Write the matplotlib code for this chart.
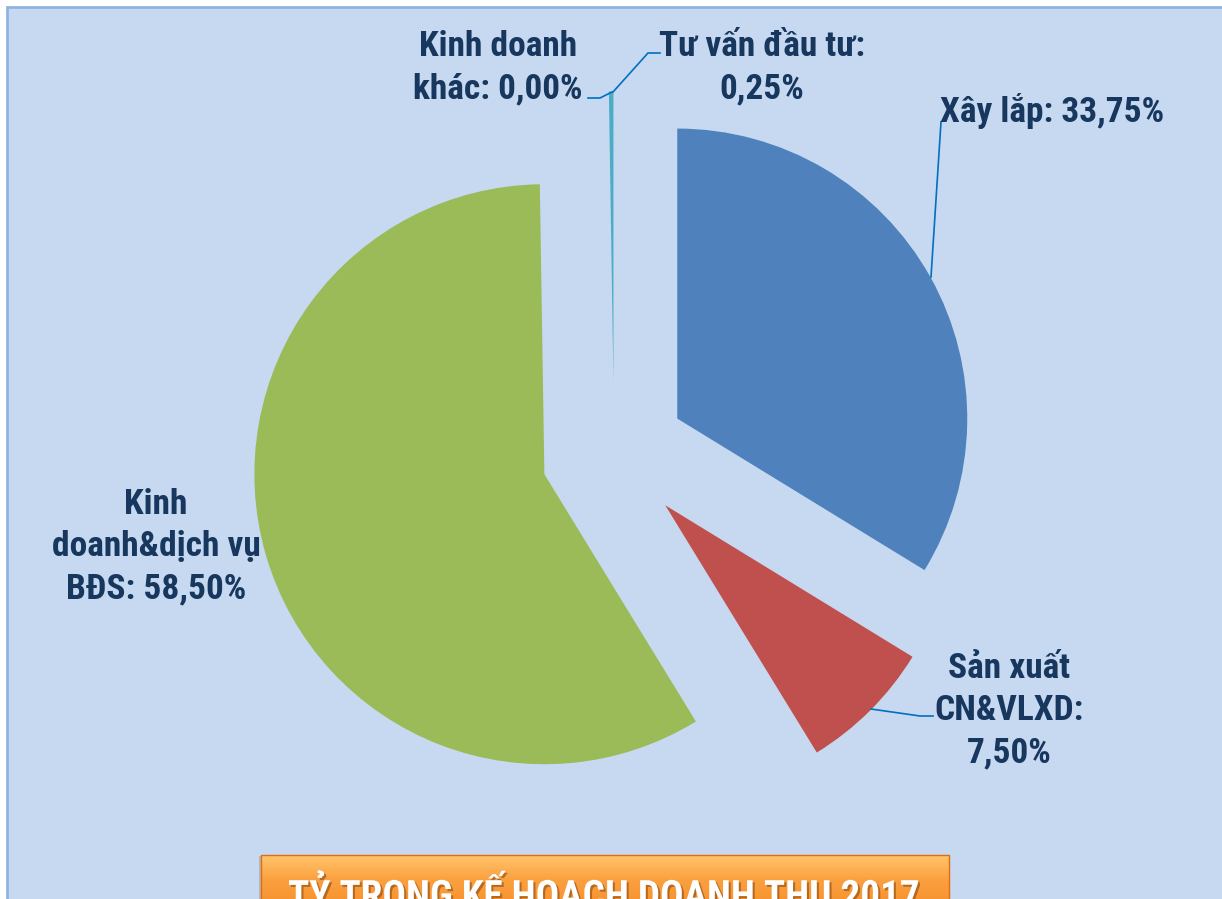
import os
import matplotlib
matplotlib.use("Agg")
import matplotlib.pyplot as plt
import matplotlib.patheffects as pe
from matplotlib import font_manager as fm
import numpy as np

# data
categories = ["Xây lắp", "Sản xuất\nCN&VLXD", "Kinh\ndoanh&dịch vụ\nBĐS",
              "Tư vấn đầu tư", "Kinh doanh\nkhác"]
shares = [33.75, 7.50, 58.50, 0.25, 0.00]
label_sep = [" ", "\n", " ", "\n", " "]
colors = ["#4F81BD", "#C0504D", "#9BBB59", "#4BACC6", "#8064A2"]
title = "TỶ TRỌNG KẾ HOẠCH DOANH THU 2017"

W, H = 1222, 899
CX, CY, R = 614, 454, 290  # pie centre / radius in pixels


def px(x, y):
    # pixel (from top-left) -> data units (radius = 1)
    return (x - CX) / R, (CY - y) / R


# look for a narrow bold face (chart uses something like Arial Narrow Bold)
prefs = ['liberationsansnarrow-bold.', 'robotocondensed-bold.',
         'notosans-condensedbold.', 'opensans-condbold.',
         'dejavusanscondensed-bold.', 'liberationsans-bold.']
files = {os.path.basename(f.fname).lower(): f.fname for f in fm.fontManager.ttflist}
font_file = None
for p in prefs:
    hit = [v for k, v in files.items() if k.startswith(p)]
    if hit:
        font_file = hit[0]
        break
if font_file:
    fprop = fm.FontProperties(fname=font_file)
else:
    fprop = fm.FontProperties(family='DejaVu Sans', weight='bold')

fig = plt.figure(figsize=(W / 100, H / 100), dpi=100, facecolor="white")
renderer = fig.canvas.get_renderer()


def measure(s, size, ls=1.0):
    t = fig.text(0, 0, s, fontproperties=fprop, fontsize=size, linespacing=ls)
    bb = t.get_window_extent(renderer)
    t.remove()
    return bb.width, bb.height


# size labels so "Xây lắp: 33,75%" is ~225 px wide, baselines 44 px apart
lab_size = 24 * 225 / measure("Xây lắp: 33,75%", 24)[0]
step = measure("A\nA", lab_size)[1] - measure("A", lab_size)[1]
lab_ls = 44.5 / step
title_size = 28 * 632 / measure(title, 28)[0]

ax = fig.add_axes([0, 0, 1, 1])

# chart area background
x0, y0 = px(7, 7)
x1, y1 = px(W + 20, H + 20)
ax.add_patch(plt.Rectangle((x0, y1), x1 - x0, y0 - y1, facecolor="#C6D9F0",
                           edgecolor="#8EB4E3", linewidth=2, zorder=0))

wedges, _ = ax.pie(shares, colors=colors, startangle=90, counterclock=False,
                   explode=[0.25] * len(shares), radius=1,
                   wedgeprops=dict(linewidth=0))
for w in wedges:
    w.set_zorder(2)

ax.set_xlim(-CX / R, (W - CX) / R)
ax.set_ylim((CY - H) / R, CY / R)
ax.set_aspect("equal")
ax.axis("off")

# labels: (x centre, baseline of last line) in pixels
label_pos = [(1052, 122), (1009, 762), (156, 598), (762, 98), (498, 98)]
for name, val, sep, (lx, ly) in zip(categories, shares, label_sep, label_pos):
    txt = name + ":" + sep + f"{val:.2f}%".replace(".", ",")
    ax.text(*px(lx, ly), txt, ha="center", va="baseline", multialignment="center",
            fontproperties=fprop, fontsize=lab_size, color="#17375E",
            linespacing=lab_ls, zorder=5)

# leader lines
leaders = [
    [(941, 122), (931, 277)],
    [(871, 709), (920, 716), (933, 716)],
    [(660, 53), (648, 53), (613, 92)],
    [(588, 98), (600, 98), (612, 92)],
]
for pts in leaders:
    xs, ys = zip(*[px(a, b) for a, b in pts])
    ax.plot(xs, ys, color="#0070C0", linewidth=1.2, zorder=4,
            solid_joinstyle="miter")

# orange title banner
bx0, by0 = px(261, 855)
bx1, by1 = px(949, H + 30)
grad = np.linspace(0, 1, 60).reshape(-1, 1)
cmap = matplotlib.colors.LinearSegmentedColormap.from_list(
    "banner", ["#FFC46A", "#FBA040", "#F7922E", "#F58A22"])
ax.add_patch(plt.Rectangle((bx0 - 0.008, by1), bx1 - bx0 + 0.004, by0 - by1 - 0.004,
                           facecolor="#9A9A9A", alpha=0.5, linewidth=0, zorder=5))
ax.imshow(grad, cmap=cmap, extent=(bx0, bx1, by1, by0), aspect="auto",
          origin="upper", zorder=6)
ax.add_patch(plt.Rectangle((bx0, by1), bx1 - bx0, by0 - by1, facecolor="none",
                           edgecolor="#E46C0A", linewidth=1, zorder=7))
ax.text(*px(604, 908), title, ha="center", va="baseline",
        fontproperties=fprop, fontsize=title_size, color="white", zorder=8,
        path_effects=[pe.withSimplePatchShadow(offset=(1.5, -1.5),
                                               shadow_rgbFace="#8A4A10", alpha=0.6)])
ax.set_xlim(-CX / R, (W - CX) / R)
ax.set_ylim((CY - H) / R, CY / R)

fig.savefig("out.png", dpi=100, facecolor="white")
